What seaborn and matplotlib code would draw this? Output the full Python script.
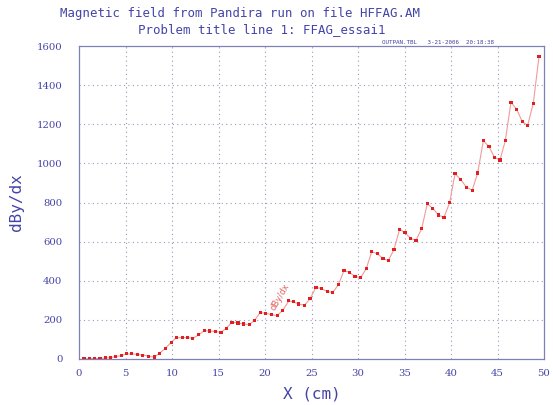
import matplotlib
matplotlib.use("Agg")
import matplotlib.pyplot as plt
import seaborn as sns
import pandas as pd

x_cm = [0.54, 1.11, 1.69, 2.26, 2.84, 3.34, 3.95, 4.53, 5.10, 5.67, 6.29, 6.86, 7.44, 8.08,
        8.66, 9.30, 9.91, 10.45, 11.10, 11.67, 12.25, 12.86, 13.47, 14.05, 14.66, 15.27,
        15.84, 16.45, 17.10, 17.71, 18.32, 18.89, 19.47, 20.08, 20.69, 21.30, 21.91, 22.56,
        23.05, 23.65, 24.24, 24.84, 25.48, 26.09, 26.70, 27.28, 27.89, 28.49, 29.07, 29.68,
        30.29, 30.89, 31.47, 32.08, 32.69, 33.26, 33.87, 34.48, 35.05, 35.67, 36.24, 36.85,
        37.45, 38.03, 38.64, 39.25, 39.86, 40.43, 41.04, 41.67, 42.28, 42.87, 43.48, 44.09,
        44.66, 45.27, 45.84, 46.45, 47.06, 47.67, 48.24, 48.85, 49.46]
dby_dx = [1, 2, 2, 3, 5, 7, 12, 17, 26, 26, 24, 20, 15, 10,
          29, 55, 85, 109, 109, 109, 106, 123, 145, 143, 141, 136,
          157, 188, 184, 179, 176, 198, 237, 234, 227, 222, 249, 297,
          292, 281, 275, 307, 367, 359, 345, 340, 379, 452, 443, 422,
          416, 462, 548, 538, 514, 503, 560, 664, 645, 616, 607, 667,
          793, 771, 736, 724, 800, 947, 918, 877, 863, 951, 1116, 1085,
          1032, 1017, 1116, 1313, 1276, 1213, 1194, 1308, 1545]

x_ticks = [0, 5, 10, 15, 20, 25, 30, 35, 40, 45, 50]
y_ticks = [0, 200, 400, 600, 800, 1000, 1200, 1400, 1600]

title1 = "Magnetic field from Pandira run on file HFFAG.AM"
title2 = "Problem title line 1: FFAG_essai1"
stamp = "OUTPAN.TBL   3-21-2006  20:18:38"

df = pd.DataFrame({"x": x_cm, "y": dby_dx})

sns.set_theme(style="white")
plt.rcParams["font.family"] = ["DejaVu Sans Mono"]

blue = "#4444a8"
frame = "#8080b8"

fig = plt.figure(figsize=(5.53, 4.05), dpi=100)
ax = fig.add_axes([79/553, 1-359/405, (544-79)/553, (359-46)/405])

sns.lineplot(data=df, x="x", y="y", ax=ax, color="#f29a9a", linewidth=0.8, sort=False)
sns.scatterplot(data=df, x="x", y="y", ax=ax, color="#e02020", marker="s", s=5,
                edgecolor="none", zorder=3)

ax.set_xlim(0, 50)
ax.set_ylim(0, 1600)
ax.set_xticks(x_ticks)
ax.set_yticks(y_ticks)
ax.set_xticklabels([str(t) for t in x_ticks], color=blue, fontsize=7.3,
                   fontfamily="DejaVu Serif")
ax.set_yticklabels([str(t) for t in y_ticks], color=blue, fontsize=7.3,
                   fontfamily="DejaVu Serif")
ax.tick_params(axis="both", direction="in", length=5, color=frame, width=0.8, pad=7)
ax.tick_params(axis="y", pad=12)

for v in x_ticks[1:-1]:
    ax.axvline(v, color="#9898b8", linestyle=(0, (1, 3)), linewidth=0.8, zorder=1)
for v in y_ticks[1:-1]:
    ax.axhline(v, color="#9898b8", linestyle=(0, (1, 3)), linewidth=0.8, zorder=1)

for s in ax.spines.values():
    s.set_color(frame)
    s.set_linewidth(0.9)

ax.set_xlabel("X (cm)", color=blue, fontsize=11.5, labelpad=6)
ax.set_ylabel("dBy/dx", color=blue, fontsize=11.5, labelpad=9)

fig.text(240/553, 1-13/405, title1, color=blue, fontsize=8.9, ha="center", va="center")
fig.text(262/553, 1-30/405, title2, color=blue, fontsize=8.9, ha="center", va="center")
fig.text(382/553, 1-42/405, stamp, color=blue, fontsize=4.2, ha="left", va="center")

ax.text(21.6, 318, "dBy/dx", color="#e06060", fontsize=6, rotation=60,
        ha="center", va="center", fontfamily="DejaVu Sans")

fig.savefig("out.png", dpi=100)
